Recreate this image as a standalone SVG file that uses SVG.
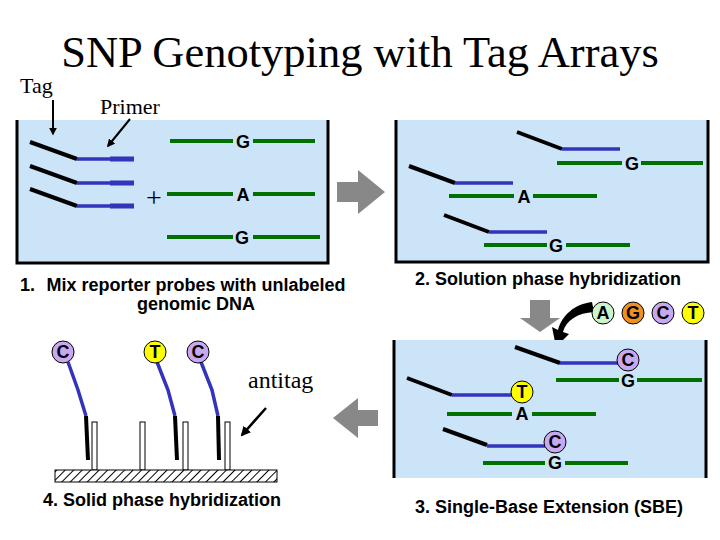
<svg xmlns="http://www.w3.org/2000/svg" width="720" height="540" viewBox="0 0 720 540">
<defs>
<marker id="ah" viewBox="0 0 10 10" refX="8" refY="5" markerWidth="4" markerHeight="4" orient="auto"><path d="M0,0L10,5L0,10z" fill="#000"/></marker>
<pattern id="hatch" width="6" height="6" patternUnits="userSpaceOnUse" patternTransform="rotate(45)"><rect width="6" height="6" fill="#fff"/><line x1="0" y1="0" x2="0" y2="6" stroke="#000" stroke-width="2"/></pattern>
<style>
.box{fill:#cce4f8}
.wall{stroke:#000;stroke-width:3;fill:none}
.tag{stroke:#000;stroke-width:4}
.pr{stroke:#3333bb;stroke-width:3.5}
.gr{stroke:#007000;stroke-width:4}
.b{font-family:"Liberation Sans",Arial,sans-serif;font-weight:bold;font-size:18px}
.s{font-family:"Liberation Serif","Times New Roman",serif}
.c{stroke:#000;stroke-width:1}
.gray{fill:#888}
</style>
</defs>
<rect width="720" height="540" fill="#fff"/>
<text class="s" x="360" y="67" font-size="44.5" text-anchor="middle">SNP Genotyping with Tag Arrays</text>
<text class="s" x="20" y="93" font-size="22">Tag</text>
<text class="s" x="100" y="114" font-size="22">Primer</text>
<g id="panel1">
<rect class="box" x="17" y="120" width="311" height="143"/>
<path class="wall" d="M17,120V263H328V120"/>
<g><line class="tag" x1="30" y1="142" x2="77" y2="159"/><line class="pr" x1="77" y1="159" x2="134" y2="159"/><line x1="110" y1="159" x2="134" y2="159" stroke="#3333bb" stroke-width="5"/></g>
<g><line class="tag" x1="30" y1="166" x2="77" y2="183"/><line class="pr" x1="77" y1="183" x2="134" y2="183"/><line x1="110" y1="183" x2="134" y2="183" stroke="#3333bb" stroke-width="5"/></g>
<g><line class="tag" x1="30" y1="189" x2="77" y2="206"/><line class="pr" x1="77" y1="206" x2="134" y2="206"/><line x1="110" y1="206" x2="134" y2="206" stroke="#3333bb" stroke-width="5"/></g>
<text class="s" x="154" y="207" font-size="28" text-anchor="middle">+</text>
<line class="gr" x1="170" y1="141" x2="233" y2="141"/><line class="gr" x1="253" y1="141" x2="315" y2="141"/><text class="b" x="243" y="148" text-anchor="middle">G</text>
<line class="gr" x1="167" y1="194" x2="233" y2="194"/><line class="gr" x1="253" y1="194" x2="315" y2="194"/><text class="b" x="243" y="201" text-anchor="middle">A</text>
<line class="gr" x1="167" y1="237" x2="233" y2="237"/><line class="gr" x1="253" y1="237" x2="320" y2="237"/><text class="b" x="242" y="244" text-anchor="middle">G</text>
</g>
<g id="arrows-labels">
<line x1="53" y1="100" x2="53" y2="134" stroke="#000" stroke-width="2" marker-end="url(#ah)"/>
<line x1="130" y1="119" x2="108" y2="146" stroke="#000" stroke-width="2" marker-end="url(#ah)"/>
</g>
<text class="b" x="20" y="291" font-size="17">1.</text>
<text class="b" x="196" y="291" text-anchor="middle" font-size="17">Mix reporter probes with unlabeled</text>
<text class="b" x="196" y="310" text-anchor="middle" font-size="17">genomic DNA</text>
<g id="connectors">
<path class="gray" d="M337,182H358V170L385,192L358,214V202H337z"/>
<path class="gray" d="M530,300H550V318H560L540,332L520,318H530z"/>
<path class="gray" d="M378,410H358V398L333,418L358,438V426H378z"/>
<path d="M592,302C575,304 562,315 558,330L552,327L556,347L569,334L563,332C566,320 578,313 594,312z" fill="#000"/>
</g>
<g id="panel2">
<rect class="box" x="396" y="120" width="312" height="142"/>
<path class="wall" d="M396,120V262H708V120"/>
<line class="tag" x1="517" y1="132" x2="562" y2="149"/><line class="pr" x1="562" y1="149" x2="620" y2="149"/>
<line class="gr" x1="557" y1="163" x2="622" y2="163"/><line class="gr" x1="641" y1="163" x2="703" y2="163"/><text class="b" x="632" y="170" text-anchor="middle">G</text>
<line class="tag" x1="409" y1="166" x2="455" y2="183"/><line class="pr" x1="455" y1="183" x2="513" y2="183"/>
<line class="gr" x1="449" y1="196" x2="514" y2="196"/><line class="gr" x1="533" y1="196" x2="597" y2="196"/><text class="b" x="524" y="203" text-anchor="middle">A</text>
<line class="tag" x1="444" y1="215" x2="489" y2="232"/><line class="pr" x1="489" y1="232" x2="547" y2="232"/>
<line class="gr" x1="484" y1="245" x2="547" y2="245"/><line class="gr" x1="566" y1="245" x2="630" y2="245"/><text class="b" x="556" y="252" text-anchor="middle">G</text>
</g>
<text class="b" x="548" y="285" text-anchor="middle" font-size="17">2. Solution phase hybridization</text>
<g id="nucleotides">
<circle class="c" cx="603" cy="313" r="11" fill="#ccf5cc"/><text class="b" x="603" y="319" text-anchor="middle">A</text>
<circle class="c" cx="633" cy="313" r="11" fill="#f09020"/><text class="b" x="633" y="319" text-anchor="middle">G</text>
<circle class="c" cx="663" cy="313" r="11" fill="#c8a8f0"/><text class="b" x="663" y="319" text-anchor="middle">C</text>
<circle class="c" cx="693" cy="313" r="11" fill="#ffff00"/><text class="b" x="693" y="319" text-anchor="middle">T</text>
</g>
<g id="panel3">
<rect class="box" x="394" y="340" width="312" height="138"/>
<path class="wall" d="M394,340V478M706,340V478"/>
<line class="tag" x1="515" y1="347" x2="560" y2="363"/><line class="pr" x1="560" y1="363" x2="618" y2="363"/>
<circle class="c" cx="628" cy="360" r="11" fill="#c8a8f0"/><text class="b" x="628" y="366" text-anchor="middle">C</text>
<line class="gr" x1="556" y1="380" x2="619" y2="380"/><line class="gr" x1="637" y1="380" x2="702" y2="380"/><text class="b" x="628" y="387" text-anchor="middle">G</text>
<line class="tag" x1="407" y1="378" x2="452" y2="395"/><line class="pr" x1="452" y1="395" x2="512" y2="395"/>
<circle class="c" cx="522" cy="392" r="11" fill="#ffff00"/><text class="b" x="522" y="398" text-anchor="middle">T</text>
<line class="gr" x1="447" y1="414" x2="512" y2="414"/><line class="gr" x1="532" y1="414" x2="596" y2="414"/><text class="b" x="522" y="420" text-anchor="middle">A</text>
<line class="tag" x1="443" y1="429" x2="487" y2="445"/><line class="pr" x1="487" y1="446" x2="545" y2="446"/>
<circle class="c" cx="555" cy="442" r="11" fill="#c8a8f0"/><text class="b" x="555" y="448" text-anchor="middle">C</text>
<line class="gr" x1="483" y1="463" x2="545" y2="463"/><line class="gr" x1="565" y1="463" x2="628" y2="463"/><text class="b" x="555" y="469" text-anchor="middle">G</text>
</g>
<text class="b" x="549" y="513" text-anchor="middle" font-size="17">3. Single-Base Extension (SBE)</text>
<g id="panel4">
<rect x="92" y="422" width="5" height="48" fill="#fff" stroke="#000"/>
<rect x="140" y="422" width="5" height="48" fill="#fff" stroke="#000"/>
<rect x="183" y="422" width="5" height="48" fill="#fff" stroke="#000"/>
<rect x="225" y="422" width="5" height="48" fill="#fff" stroke="#000"/>
<rect x="55" y="470" width="222" height="12" fill="url(#hatch)" stroke="#000"/>
<polyline points="68,362 78,390 86,416" fill="none" class="pr"/><line class="tag" x1="86" y1="416" x2="88" y2="460"/>
<polyline points="157,362 168,390 175,416" fill="none" class="pr"/><line class="tag" x1="175" y1="416" x2="177" y2="460"/>
<polyline points="201,362 212,390 218,416" fill="none" class="pr"/><line class="tag" x1="218" y1="416" x2="219" y2="460"/>
<circle class="c" cx="63" cy="352" r="11" fill="#c8a8f0"/><text class="b" x="63" y="358" text-anchor="middle">C</text>
<circle class="c" cx="155" cy="352" r="11" fill="#ffff00"/><text class="b" x="155" y="358" text-anchor="middle">T</text>
<circle class="c" cx="198" cy="352" r="11" fill="#c8a8f0"/><text class="b" x="198" y="358" text-anchor="middle">C</text>
<text class="s" x="248" y="388" font-size="24">antitag</text>
<line x1="266" y1="408" x2="242" y2="435" stroke="#000" stroke-width="2.5" marker-end="url(#ah)"/>
</g>
<text class="b" x="162" y="506" text-anchor="middle" font-size="17">4. Solid phase hybridization</text>
</svg>
